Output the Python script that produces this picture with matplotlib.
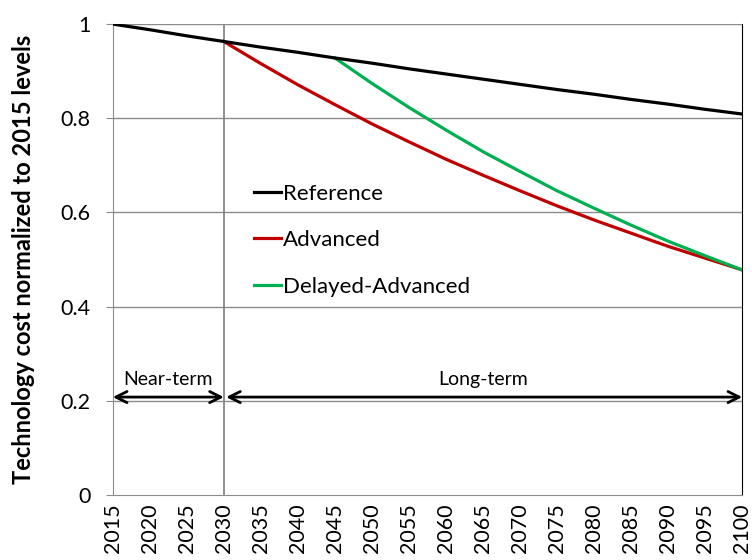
import matplotlib
matplotlib.use("Agg")
import matplotlib.pyplot as plt

plt.rcParams['font.family'] = ['Lato', 'DejaVu Sans']

# data
ref_years = [2015, 2020, 2025, 2030, 2035, 2040, 2045, 2050, 2055, 2060,
             2065, 2070, 2075, 2080, 2085, 2090, 2095, 2100]
ref_cost = [1.000, 0.988, 0.975, 0.963, 0.951, 0.940, 0.928, 0.917, 0.905,
            0.894, 0.883, 0.872, 0.861, 0.851, 0.840, 0.830, 0.819, 0.809]

adv_years = [2030, 2035, 2040, 2045, 2050, 2055, 2060, 2065, 2070, 2075,
             2080, 2085, 2090, 2095, 2100]
adv_cost = [0.963, 0.916, 0.871, 0.829, 0.788, 0.750, 0.713, 0.679, 0.646,
            0.614, 0.584, 0.556, 0.528, 0.503, 0.478]

del_years = [2045, 2050, 2055, 2060, 2065, 2070, 2075, 2080, 2085, 2090,
             2095, 2100]
del_cost = [0.928, 0.874, 0.823, 0.775, 0.729, 0.687, 0.646, 0.609, 0.573,
            0.539, 0.508, 0.478]

x_ticks = list(range(2015, 2101, 5))
y_ticks = [0, 0.2, 0.4, 0.6, 0.8, 1]
y_tick_labels = ['0', '0.2', '0.4', '0.6', '0.8', '1']

fig = plt.figure(figsize=(7.52, 5.60), dpi=100)
ax = fig.add_axes([0.150, 0.116, 0.837, 0.841])

# gridlines
for y in y_ticks[1:]:
    ax.axhline(y, color='#8c8c8c', lw=1, zorder=1)
ax.axvline(2030, color='#7f7f7f', lw=1.2, zorder=1)

ax.plot(ref_years, ref_cost, color='black', lw=2.3, label='Reference', zorder=4)
ax.plot(adv_years, adv_cost, color='#C00000', lw=2.3, label='Advanced', zorder=3)
ax.plot(del_years, del_cost, color='#00B050', lw=2.3, label='Delayed-Advanced', zorder=3)

# near/long term arrows
arrow = dict(arrowstyle='<->', color='black', lw=2, mutation_scale=20,
             shrinkA=0, shrinkB=0)
ax.annotate('', xy=(2015, 0.208), xytext=(2030, 0.208), arrowprops=arrow, zorder=5)
ax.annotate('', xy=(2030.3, 0.208), xytext=(2100, 0.208), arrowprops=arrow, zorder=5)
ax.text(2022.5, 0.228, 'Near-term', ha='center', va='bottom', fontsize=14)
ax.text(2065, 0.228, 'Long-term', ha='center', va='bottom', fontsize=14)

ax.set_xlim(2015, 2100)
ax.set_ylim(0, 1)
ax.set_xticks(x_ticks)
ax.set_xticklabels([str(t) for t in x_ticks], rotation=90, fontsize=15.5)
ax.set_yticks(y_ticks)
ax.set_yticklabels(y_tick_labels, fontsize=15.5)
ax.tick_params(axis='x', length=0, pad=6)
ax.tick_params(axis='y', length=5, color='#8c8c8c', pad=11)

ax.spines['top'].set_visible(False)
ax.spines['left'].set_color('#8c8c8c')
ax.spines['bottom'].set_color('#8c8c8c')
ax.spines['right'].set_color('black')

ax.set_ylabel('Technology cost normalized to 2015 levels', fontsize=17,
              fontweight='bold', labelpad=18)

ax.legend(loc='center left', bbox_to_anchor=(0.225, 0.541), frameon=False,
          fontsize=16, handlelength=1.2, handletextpad=0.1, labelspacing=1.2,
          borderpad=0, borderaxespad=0)

fig.savefig('out.png', dpi=100)
